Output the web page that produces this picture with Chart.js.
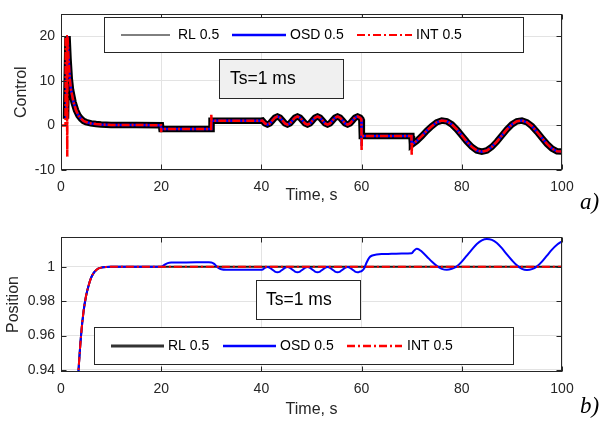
<!DOCTYPE html>
<html><head><meta charset="utf-8">
<script src="https://cdn.jsdelivr.net/npm/chart.js@4/dist/chart.umd.min.js"></script>
<style>
html,body{margin:0;padding:0;background:#fff;width:603px;height:425px;overflow:hidden;}
body{position:relative;}
#w1{position:absolute;left:0;top:0;width:603px;height:210px;}
#w2{position:absolute;left:0;top:200px;width:603px;height:225px;}
.lab{position:absolute;font-family:"Liberation Serif","Times New Roman",serif;font-style:italic;font-size:23px;line-height:23px;color:#000;}
</style></head><body>
<div id="w1"><canvas id="c1" width="603" height="210"></canvas></div>
<div id="w2"><canvas id="c2" width="603" height="225"></canvas></div>
<div class="lab" style="left:580px;top:190px;">a)</div>
<div class="lab" style="left:580px;top:394px;">b)</div>
<script>
// ---------------- data ----------------
const seriesNames = ['RL 0.5', 'OSD 0.5', 'INT 0.5'];
const xTicks = [0, 20, 40, 60, 80, 100];
const xTickLabels = ['0', '20', '40', '60', '80', '100'];
const ctrlTicks = [-10, 0, 10, 20];
const ctrlTickLabels = ['-10', '0', '10', '20'];
const posTicks = [0.94, 0.96, 0.98, 1];
const posTickLabels = ['0.94', '0.96', '0.98', '1'];
const boxText = 'Ts=1 ms';

// Control, RL (OSD follows the same path)
const tCtrl = [1.0,1.3,1.5,1.75,2.0,2.5,3.0,3.5,4.0,4.5,5.0,6.0,7.0,8.0,10,15,19.95,
  20.05,29.95,30.05,40.0,
  40.2,40.7,41.2,41.7,42.2,42.7,43.2,43.7,
  44.2,44.7,45.2,45.7,46.2,46.7,47.2,47.7,
  48.2,48.7,49.2,49.7,50.2,50.7,51.2,51.7,
  52.2,52.7,53.2,53.7,54.2,54.7,55.2,55.7,
  56.2,56.7,57.2,57.7,58.2,58.7,59.2,59.7,
  59.95,60.05,69.95,
  70.05,71,72,73,74,75,76,77,78,79,80,81,82,83,84,85,86,87,88,89,90,91,92,93,94,95,96,97,98,99,100];
const uRL = [1.5,20,15,10.5,8.0,5.2,3.4,2.2,1.5,1.0,0.75,0.45,0.3,0.2,0.12,0.08,0.05,
  -0.8,-0.8,1.05,1.05,
  1.1,0.46,0.2,0.46,1.1,1.74,2.0,1.74,
  1.1,0.46,0.2,0.46,1.1,1.74,2.0,1.74,
  1.1,0.46,0.2,0.46,1.1,1.74,2.0,1.74,
  1.1,0.46,0.2,0.46,1.1,1.74,2.0,1.74,
  1.1,0.46,0.2,0.46,1.1,1.74,2.0,1.74,
  1.38,-2.4,-2.4,
  -4.3,-3.5,-2.4,-1.2,-0.18,0.70,1.09,0.92,0.22,-0.90,-2.26,-3.64,-4.82,-5.62,-5.9,-5.62,-4.82,-3.64,-2.26,-0.90,0.22,0.92,1.09,0.70,-0.18,-1.43,-2.82,-4.15,-5.2,-5.8,-5.85];
// INT start and step spikes
const tIntStart = [0, 0.9, 0.95, 1.15, 1.25];
const uIntStart = [0, 0, 20, 20, -7];
const tSpike = [20.0, 30.0, 60.0, 70.0];
const uIntSpike = [-1.5, 2.4, -5.7, -6.8];
const uOsdSpike = [-0.9, 1.3, -4.6, -4.9];

// Position, RL and INT
const tPosRef = [3,3.5,4,4.5,5,5.5,6,6.5,7,7.5,8,9,10,100];
const yPosRef = [0.915,0.940,0.960,0.974,0.983,0.989,0.9935,0.9963,0.998,0.999,0.9995,0.9999,1,1];
// Position, OSD
const tPosOSD = [3,3.5,4,4.5,5,5.5,6,6.5,7,7.5,8,9,10,
  19.8,20.3,20.8,21.3,22,25,29.5,30,30.5,31,31.5,32,33,40,
  40.2,40.7,41.2,41.7,42.2,42.7,43.2,43.7,
  44.2,44.7,45.2,45.7,46.2,46.7,47.2,47.7,
  48.2,48.7,49.2,49.7,50.2,50.7,51.2,51.7,
  52.2,52.7,53.2,53.7,54.2,54.7,55.2,55.7,
  56.2,56.7,57.2,57.7,58.2,58.7,59.2,59.7,
  60,60.5,61,61.5,62,63,64,66,68,70,70.5,71,71.5,72,
  73,74,75,76,77,78,79,80,81,82,83,84,85,86,87,88,89,90,91,92,93,94,95,96,97,98,99,100];
const yPosOSD = [0.915,0.940,0.960,0.974,0.983,0.989,0.9935,0.9963,0.998,0.999,0.9995,0.9999,1,
  1.0,1.0004,1.0014,1.0021,1.0024,1.0025,1.0026,1.0025,1.0018,1.0005,0.9992,0.9985,0.9982,0.9982,
  0.9983,0.9994,0.9998,0.9994,0.9983,0.9972,0.9968,0.9972,
  0.9983,0.9994,0.9998,0.9994,0.9983,0.9972,0.9968,0.9972,
  0.9983,0.9994,0.9998,0.9994,0.9983,0.9972,0.9968,0.9972,
  0.9983,0.9994,0.9998,0.9994,0.9983,0.9972,0.9968,0.9972,
  0.9983,0.9994,0.9998,0.9994,0.9983,0.9972,0.9968,0.9972,
  0.9975,0.9990,1.0025,1.0052,1.0064,1.0071,1.0074,1.0075,1.0077,1.0079,1.0095,1.0104,1.0100,1.0088,
  1.0060,1.0030,1.0005,0.9988,0.9982,0.9988,1.0002,1.0030,1.0065,1.0100,1.0132,1.0153,1.0161,1.0156,
  1.0138,1.0108,1.0072,1.0038,1.0008,0.9988,0.9981,0.9986,1.0002,1.0030,1.0065,1.0100,1.0128,1.0148];

// ---------------- build ----------------
const pts = (ts, ys) => ts.map((t, i) => ({x: t, y: ys[i]}));
const byX = (a, b) => a.x - b.x;
const ctrlBase = pts(tCtrl, uRL);
const ctrlOSD = ctrlBase.concat(pts(tSpike, uOsdSpike)).sort(byX);
const ctrlINT = pts(tIntStart, uIntStart).concat(ctrlBase.filter(p => p.x >= 1.3), pts(tSpike, uIntSpike)).sort(byX);

const AX = '#262626', GRID = '#e3e3e3';
const FONT = '"Liberation Sans", Arial, Helvetica, sans-serif';
Chart.defaults.font.family = FONT;
Chart.defaults.color = AX;
const DASHDOT = [8, 3, 2, 3];
const DASHDOT_TOP = [8, 2, 2, 2];

const framePlugin = {
  id: 'frame',
  afterDraw(chart, args, o) {
    const {ctx, chartArea: a, scales} = chart;
    ctx.save();
    ctx.strokeStyle = AX; ctx.lineWidth = 1;
    const L = Math.round(a.left) + 0.5, R = Math.round(a.right) - 0.5;
    const T = Math.round(a.top) + 0.5, B = Math.round(a.bottom) - 0.5;
    ctx.beginPath();
    scales.x.ticks.forEach(t => {
      const px = Math.round(scales.x.getPixelForValue(t.value)) + 0.5;
      ctx.moveTo(px, B); ctx.lineTo(px, B - 5);
      ctx.moveTo(px, T); ctx.lineTo(px, T + 5);
    });
    scales.y.ticks.forEach(t => {
      const py = Math.round(scales.y.getPixelForValue(t.value)) + 0.5;
      ctx.moveTo(L, py); ctx.lineTo(L + 5, py);
      ctx.moveTo(R, py); ctx.lineTo(R - 5, py);
    });
    ctx.stroke();
    ctx.strokeRect(L, T, R - L, B - T);

    // text box
    const tb = o.tsBox;
    ctx.fillStyle = tb.fill;
    ctx.fillRect(tb.x, tb.y, tb.w, tb.h);
    ctx.strokeRect(tb.x + 0.5, tb.y + 0.5, tb.w - 1, tb.h - 1);
    ctx.fillStyle = '#000';
    ctx.font = '17.5px ' + FONT;
    ctx.textBaseline = 'middle'; ctx.textAlign = 'left';
    ctx.fillText(boxText, tb.tx, tb.y + tb.h / 2 + 0.5);

    // legend
    const lg = o.legend;
    ctx.fillStyle = '#fff';
    ctx.fillRect(lg.x, lg.y, lg.w, lg.h);
    ctx.strokeStyle = AX; ctx.lineWidth = 1; ctx.setLineDash([]);
    ctx.strokeRect(lg.x + 0.5, lg.y + 0.5, lg.w - 1, lg.h - 1);
    const cy = lg.y + lg.h / 2;
    ctx.font = '14px ' + FONT;
    lg.items.forEach((it, i) => {
      ctx.save();
      ctx.strokeStyle = it.color; ctx.lineWidth = it.width;
      ctx.setLineDash(it.dash || []);
      ctx.beginPath(); ctx.moveTo(it.x1, cy); ctx.lineTo(it.x2, cy); ctx.stroke();
      ctx.restore();
      ctx.fillStyle = '#000';
      ctx.fillText(seriesNames[i], it.tx, cy + 0.5);
    });
    ctx.restore();
  }
};

function mkChart(id, c) {
  return new Chart(document.getElementById(id), {
    type: 'line',
    data: {datasets: c.datasets},
    options: {
      responsive: false, animation: false, events: [],
      layout: {padding: {left: 0, right: 41, top: c.top, bottom: 0}},
      elements: {point: {radius: 0}},
      plugins: {legend: {display: false}, tooltip: {enabled: false}, frame: c.frame},
      scales: {
        x: {
          type: 'linear', min: 0, max: 100,
          afterBuildTicks: s => { s.ticks = xTicks.map(v => ({value: v})); },
          afterFit: s => { s.height = c.xh; },
          grid: {color: GRID, drawTicks: false}, border: {display: false},
          ticks: {padding: 9, color: AX, font: {size: 14}, maxRotation: 0, autoSkip: false,
                  callback: (v, i) => xTickLabels[i]},
          title: {display: true, text: 'Time, s', color: AX, font: {size: 16}, padding: {top: 0, bottom: c.xtpb}}
        },
        y: {
          type: 'linear', min: c.ymin, max: c.ymax,
          afterBuildTicks: s => { s.ticks = c.yTicks.map(v => ({value: v})); },
          afterFit: s => { s.width = 61; },
          grid: {color: GRID, drawTicks: false}, border: {display: false},
          ticks: {padding: 6, color: AX, font: {size: 14}, callback: (v, i) => c.yLabels[i]},
          title: {display: true, text: c.ytitle, color: AX, font: {size: 16}, padding: {top: c.ytpt, bottom: 0}}
        }
      }
    },
    plugins: [framePlugin]
  });
}

mkChart('c1', {
  top: 12, xh: 40, xtpb: 5, ymin: -10, ymax: 24.9, yTicks: ctrlTicks, yLabels: ctrlTickLabels,
  ytitle: 'Control', ytpt: 12,
  datasets: [
    {label: seriesNames[0], data: ctrlBase, borderColor: '#000', borderWidth: 6.5, tension: 0, clip: 0, order: 3},
    {label: seriesNames[1], data: ctrlOSD, borderColor: '#0000ff', borderWidth: 2.5, tension: 0, clip: 0, order: 2},
    {label: seriesNames[2], data: ctrlINT, borderColor: '#ff0000', borderWidth: 2.5, borderDash: DASHDOT_TOP, tension: 0, clip: 0, order: 1}
  ],
  frame: {
    tsBox: {x: 219, y: 59, w: 125, h: 40, fill: '#f0f0f0', tx: 230},
    legend: {x: 104, y: 17, w: 420, h: 36, items: [
      {x1: 121, x2: 170, tx: 178, color: '#000', width: 1},
      {x1: 232, x2: 286, tx: 290, color: '#0000ff', width: 2.5},
      {x1: 357, x2: 412, tx: 416, color: '#ff0000', width: 2, dash: DASHDOT}
    ]}
  }
});

mkChart('c2', {
  top: 37, xh: 53, xtpb: 6, ymin: 0.9388, ymax: 1.0173, yTicks: posTicks, yLabels: posTickLabels,
  ytitle: 'Position', ytpt: 4,
  datasets: [
    {label: seriesNames[0], data: pts(tPosRef, yPosRef), borderColor: '#1a1a1a', borderWidth: 2, cubicInterpolationMode: 'monotone', clip: 0, order: 3},
    {label: seriesNames[1], data: pts(tPosOSD, yPosOSD), borderColor: '#0000ff', borderWidth: 2, cubicInterpolationMode: 'monotone', clip: 0, order: 2},
    {label: seriesNames[2], data: pts(tPosRef, yPosRef), borderColor: '#ff0000', borderWidth: 2, borderDash: DASHDOT, cubicInterpolationMode: 'monotone', clip: 0, order: 1}
  ],
  frame: {
    tsBox: {x: 256, y: 80, w: 105, h: 40, fill: '#ffffff', tx: 266},
    legend: {x: 94, y: 127, w: 420, h: 38, items: [
      {x1: 111, x2: 164, tx: 168, color: '#333', width: 3},
      {x1: 223, x2: 276, tx: 280, color: '#0000ff', width: 2.5},
      {x1: 347, x2: 402, tx: 407, color: '#ff0000', width: 2.5, dash: DASHDOT}
    ]}
  }
});
</script>
</body></html>
